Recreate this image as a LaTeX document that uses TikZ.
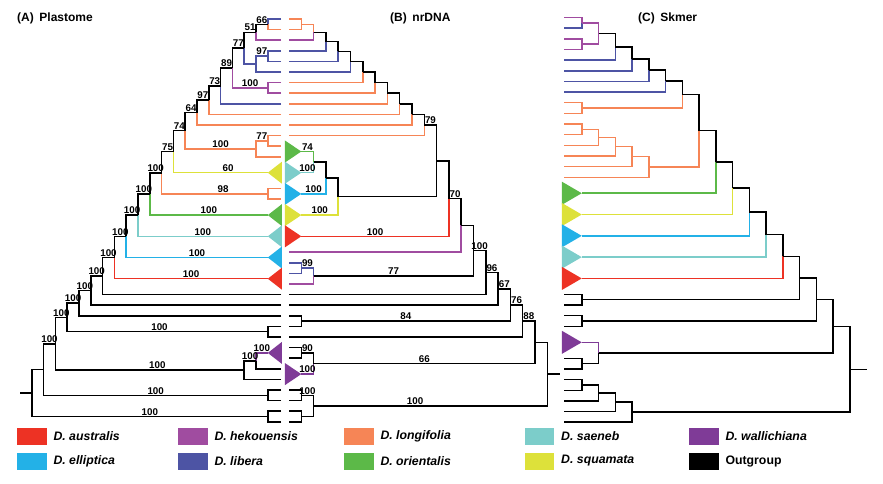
\documentclass[tikz,border=0pt]{standalone}
\usepackage{fontspec}
\setmainfont{Liberation Sans}
\definecolor{aust}{RGB}{237,50,36}
\definecolor{elli}{RGB}{35,177,231}
\definecolor{heko}{RGB}{160,76,160}
\definecolor{libe}{RGB}{77,84,164}
\definecolor{long}{RGB}{246,133,86}
\definecolor{orie}{RGB}{92,185,72}
\definecolor{saen}{RGB}{124,205,202}
\definecolor{squa}{RGB}{221,225,58}
\definecolor{wall}{RGB}{127,59,151}
\definecolor{outg}{RGB}{0,0,0}
\tikzset{
  br/.style={line width=1.5pt},
  bs/.style={above,inner sep=1pt,font=\bfseries\fontsize{9.8}{10}\selectfont},
  paneltitle/.style={anchor=west,inner sep=0pt,font=\bfseries\fontsize{12}{14}\selectfont},
  legtext/.style={anchor=west,inner sep=0pt,font=\bfseries\itshape\fontsize{12.3}{14}\selectfont}
}
\begin{document}
\begin{tikzpicture}[x=1pt,y=-1pt]
  \useasboundingbox (0,0) rectangle (883,483);
  \node[paneltitle] (tA) at (17,18) {(A)\hspace{5.6pt}Plastome};
  \node[paneltitle] (tB) at (390,18) {(B)\hspace{5.6pt}nrDNA};
  \node[paneltitle] (tC) at (638,18) {(C)\hspace{5.6pt}Skmer};

  % (A) plastome, root on the left
  \begin{scope}[shift={(20,19)},x=11.8pt,y=-10.6pt]
    \foreach \r in {0,1,2,3,4,5,6,7,8,9,10,11,12,13,16,17,26,27,28,29,30,33,34,35,36,37,38}
      \coordinate (a\r) at (22.12,\r);
    \foreach \n/\r/\col in {Y/14.5/squa,G/18.5/orie,S/20.5/saen,E/22.5/elli,A/24.5/aust,W/31.5/wall}{
      \coordinate (a\n) at (21,\r);
      \fill[\col] (a\n) -- ++(1.2,-1.04) -- ++(0,2.08) -- cycle;
    }
    \foreach \n/\l/\r in {n1/21/0.5,n2/20/1.25,n3/21/3.5,n4/20/4.25,n5/19/2.75,n6/21/6.5,
      n7/18/4.625,n8/17/6.3125,n9/16/7.65625,n10/15/8.828,n11/21/11.5,n12/20/12.25,
      n13/14/10.539,n14/13/12.52,n15/21/16.5,n16/12/14.51,n17/11/16.5,n18/10/18.5,
      n19/9/20.5,n20/8/22.5,n21/7/24.25,n22/6/25.625,n23/5/26.8125,n24/21/29.5,
      n25/4/28.156,n26/20/32.25,n27/19/33.125,n28/3/30.64,n29/21/35.5,n30/2/33.07,
      n31/21/37.5,n32/1/35.285}
      \coordinate (\n) at (\l,\r);
    \coordinate (aR) at (0,35.285);
    \foreach \ch/\pa/\col in {a0/n1/libe,a1/n1/long,n1/n2/outg,a2/n2/heko,
      a3/n3/libe,a4/n3/libe,n3/n4/libe,a5/n4/libe,n2/n5/outg,n4/n5/libe,
      n5/n7/outg,a6/n6/heko,a7/n6/heko,n6/n7/heko,n7/n8/outg,a8/n8/libe,
      n8/n9/outg,a9/n9/long,n9/n10/outg,a10/n10/long,a11/n11/long,a12/n11/long,
      n11/n12/long,a13/n12/long,n10/n13/outg,n12/n13/long,n13/n14/outg,aY/n14/squa,
      a16/n15/long,a17/n15/long,n14/n16/outg,n15/n16/long,n16/n17/outg,aG/n17/orie,
      n17/n18/outg,aS/n18/saen,n18/n19/outg,aE/n19/elli,n19/n20/outg,aA/n20/aust,
      n20/n21/outg,a26/n21/outg,n21/n22/outg,a27/n22/outg,n22/n23/outg,a28/n23/outg,
      a29/n24/outg,a30/n24/outg,n23/n25/outg,n24/n25/outg,aW/n26/wall,a33/n26/outg,
      n26/n27/outg,a34/n27/outg,n25/n28/outg,n27/n28/outg,a35/n29/outg,a36/n29/outg,
      n28/n30/outg,n29/n30/outg,a37/n31/outg,a38/n31/outg,n30/n32/outg,n31/n32/outg}
      \draw[br,\col] (\ch) -| (\pa);
    \draw[br] (aR) -- (n32);
    \foreach \ch/\pa/\lab/\ps in {n1/n2/66/.25,n2/n5/51/.25,n3/n4/97/.25,n5/n7/77/.25,
      n6/n7/100/.25,n7/n8/89/.25,n8/n9/73/.25,n9/n10/97/.25,n10/n13/64/.25,
      n11/n12/77/.25,n12/n13/100/.25,n13/n14/74/.25,n14/n16/75/.25,aY/n14/60/.21,
      n15/n16/98/.21,n16/n17/100/.25,aG/n17/100/.25,n17/n18/100/.25,aS/n18/100/.25,
      n18/n19/100/.25,aE/n19/100/.25,n19/n20/100/.25,aA/n20/100/.25,n20/n21/100/.25,
      n21/n22/100/.25,n22/n23/100/.25,n23/n25/100/.25,n24/n25/100/.27,aW/n26/100/.25,
      n26/n27/100/.25,n27/n28/100/.23,n25/n28/100/.25,n28/n30/100/.25,
      n29/n30/100/.25,n31/n32/100/.25}
      \path (\ch) -| node[bs,pos=\ps] {\lab} (\pa);
  \end{scope}

  % (B) nrDNA, root on the right
  \begin{scope}[shift={(289,19)},x=12.3pt,y=-10.6pt]
    \foreach \r in {0,1,2,3,4,5,6,7,8,9,10,11,22,23,24,25,26,27,28,29,30,31,32,35,36,37,38}
      \coordinate (b\r) at (0,\r);
    \foreach \n/\r/\col in {G/12.5/orie,S/14.5/saen,E/16.5/elli,Y/18.5/squa,A/20.5/aust,W/33.5/wall}{
      \coordinate (b\n) at (1,\r);
      \fill[\col] (b\n) -- ++(-1.33,-1.04) -- ++(0,2.08) -- cycle;
    }
    \foreach \n/\l/\r in {m1/1/0.5,m2/2/1.25,m3/3/2.125,m4/4/3.0625,m5/5/4.03,m6/6/5.016,
      m7/7/6.008,m8/8/7.004,m9/9/8.002,m10/10/9.001,m11/11/10,m12/2/13.5,m13/3/15,
      m14/4/16.75,m15/12/13.375,m16/13/16.94,m17/14/19.47,m18/1/23.5,m19/2/24.25,
      m20/15/21.86,m21/16/23.93,m22/17/25.47,m23/1/28.5,m24/18/26.98,m25/19/28.49,
      m26/1/31.5,m27/2/32.5,m28/20/30.5,m29/1/35.5,m30/1/37.5,m31/2/36.5,m32/21/33.5}
      \coordinate (\n) at (\l,\r);
    \coordinate (bR) at (22.04,33.5);
    \foreach \ch/\pa/\col in {b0/m1/long,b1/m1/long,m1/m2/long,b2/m2/heko,m2/m3/outg,
      b3/m3/libe,m3/m4/outg,b4/m4/libe,m4/m5/outg,b5/m5/libe,m5/m6/outg,b6/m6/long,
      m6/m7/outg,b7/m7/long,m7/m8/outg,b8/m8/long,m8/m9/outg,b9/m9/long,m9/m10/outg,
      b10/m10/long,m10/m11/outg,b11/m11/long,bG/m12/orie,bS/m12/saen,m12/m13/outg,
      bE/m13/elli,m13/m14/outg,bY/m14/squa,m11/m15/outg,m14/m15/outg,m15/m16/outg,
      bA/m16/aust,m16/m17/outg,b22/m17/heko,b23/m18/libe,b24/m18/libe,m18/m19/libe,
      b25/m19/heko,m17/m20/outg,m19/m20/outg,m20/m21/outg,b26/m21/outg,m21/m22/outg,
      b27/m22/outg,b28/m23/outg,b29/m23/outg,m22/m24/outg,m23/m24/outg,m24/m25/outg,
      b30/m25/outg,b31/m26/outg,b32/m26/outg,m26/m27/outg,bW/m27/wall,m25/m28/outg,
      m27/m28/outg,b35/m29/outg,b36/m29/outg,b37/m30/outg,b38/m30/outg,m29/m31/outg,
      m30/m31/outg,m28/m32/outg,m31/m32/outg}
      \draw[br,\col] (\ch) -| (\pa);
    \draw[br] (m32) -- (bR);
    \foreach \ch/\pa/\lab/\ps in {m11/m15/79/.25,bG/m12/74/.25,bS/m12/100/.25,
      bE/m13/100/.25,bY/m14/100/.25,m16/m17/70/.25,bA/m16/100/.25,m18/m19/99/.25,
      m19/m20/77/.25,m20/m21/100/.25,m21/m22/96/.25,m22/m24/67/.25,m23/m24/84/.25,
      m24/m25/76/.25,m25/m28/88/.25,m26/m27/90/.25,bW/m27/100/.25,m27/m28/66/.25,
      m29/m31/100/.25,m31/m32/100/.217}
      \path (\ch) -| node[bs,pos=\ps] {\lab} (\pa);
  \end{scope}

  % (C) Skmer, root on the right
  \begin{scope}[shift={(565,17.5)},x=16.75pt,y=-10.65pt]
    \foreach \r in {0,1,2,3,4,5,6,7,8,9,10,11,12,13,14,15,26,27,28,29,32,33,34,35,36,37,38}
      \coordinate (c\r) at (-0.06,\r);
    \foreach \n/\r/\col in {G/16.5/orie,Y/18.5/squa,E/20.5/elli,S/22.5/saen,A/24.5/aust,W/30.5/wall}{
      \coordinate (c\n) at (1,\r);
      \fill[\col] (c\n) -- ++(-1.18,-1.08) -- ++(0,2.16) -- cycle;
    }
    \foreach \n/\l/\r in {k1/1/0.5,k2/1/2.5,k3/2/1.5,k4/3/2.75,k5/4/3.875,k6/5/4.9375,
      k7/6/5.97,k8/1/8.5,k9/7/7.23,k10/1/10.5,k11/2/11.25,k12/3/12.125,k13/4/13.06,
      k14/5/14.03,k15/8/10.63,k16/9/13.57,k17/10/16.03,k18/11/18.27,k19/12/20.38,
      k20/13/22.44,k21/1/26.5,k22/14/24.47,k23/1/28.5,k24/15/26.49,k25/1/32.5,
      k26/2/31.5,k27/16/28.99,k28/1/34.5,k29/2/35.25,k30/3/36.125,k31/4/37.06,k32/17/33.03}
      \coordinate (\n) at (\l,\r);
    \coordinate (cR) at (18,33.03);
    \foreach \ch/\pa/\col in {c0/k1/heko,c1/k1/libe,c2/k2/heko,c3/k2/heko,k1/k3/heko,
      k2/k3/heko,k3/k4/outg,c4/k4/libe,k4/k5/outg,c5/k5/libe,k5/k6/outg,c6/k6/libe,
      k6/k7/outg,c7/k7/libe,c8/k8/long,c9/k8/long,k7/k9/outg,k8/k9/long,c10/k10/long,
      c11/k10/long,k10/k11/long,c12/k11/long,k11/k12/long,c13/k12/long,k12/k13/long,
      c14/k13/long,k13/k14/long,c15/k14/long,k9/k15/outg,k14/k15/long,k15/k16/outg,
      cG/k16/orie,k16/k17/outg,cY/k17/squa,k17/k18/outg,cE/k18/elli,k18/k19/outg,
      cS/k19/saen,k19/k20/outg,cA/k20/aust,c26/k21/outg,c27/k21/outg,k20/k22/outg,
      k21/k22/outg,c28/k23/outg,c29/k23/outg,k22/k24/outg,k23/k24/outg,cW/k26/wall,
      c32/k25/outg,c33/k25/outg,k25/k26/outg,k24/k27/outg,k26/k27/outg,c34/k28/outg,
      c35/k28/outg,k28/k29/outg,c36/k29/outg,k29/k30/outg,c37/k30/outg,k30/k31/outg,
      c38/k31/outg,k27/k32/outg,k31/k32/outg}
      \draw[br,\col] (\ch) -| (\pa);
    \draw[br] (k32) -- (cR);
  \end{scope}

  % legend
  \foreach \col/\xx/\yy/\name in {aust/17.3/436/D. australis,elli/17.3/461/D. elliptica,
    heko/178.3/436/D. hekouensis,libe/178.3/461/D. libera,long/344.3/436/D. longifolia,
    orie/344.3/461/D. orientalis,saen/525/436/D. saeneb,squa/525/461/D. squamata,
    wall/689.3/436/D. wallichiana}{
    \fill[\col] (\xx,\yy-8.5) rectangle ++(29.3,17);
    \node[legtext] (lg\col) at (\xx+36,\yy) {\name};
  }
  \fill[outg] (689.3,452.5) rectangle ++(29.3,17);
  \node[legtext,font=\bfseries\fontsize{12.3}{14}\selectfont] (lgoutg) at (725.3,461) {Outgroup};
\end{tikzpicture}
\end{document}
